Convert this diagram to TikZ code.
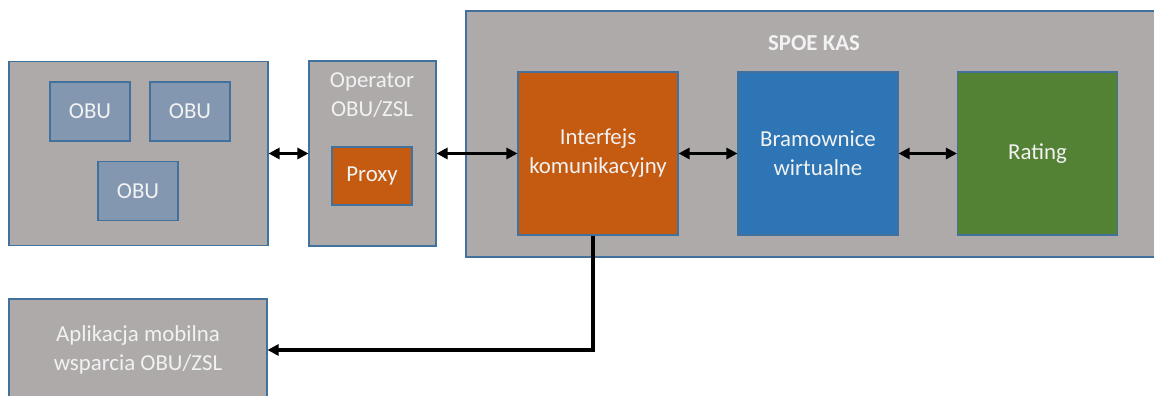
\documentclass[tikz,border=0pt]{standalone}
\usepackage{fontspec}
\setmainfont{Carlito}
\usepackage{xcolor}
\usetikzlibrary{arrows.meta}

\definecolor{boxgrey}{HTML}{AEAAAA}
\definecolor{boxline}{HTML}{41719C}
\definecolor{obublue}{HTML}{8497B0}
\definecolor{ifaceorange}{HTML}{C55A11}
\definecolor{gateblue}{HTML}{2E75B6}
\definecolor{ratinggreen}{HTML}{548235}
\definecolor{txt}{HTML}{F2F2F2}

\begin{document}
\begin{tikzpicture}[
  box/.style = {draw = boxline,line width = 0.6pt,fill = boxgrey,text = txt,inner sep = 0pt,align = center},
  unit/.style = {box,minimum width = 1.6cm,minimum height = 1.18cm},
  block/.style = {box,minimum width = 3.2cm,minimum height = 3.26cm},
  link/.style = {line width = 2pt,{Triangle[length = 0.22cm,width = 0.22cm]}-{Triangle[length = 0.22cm,width = 0.22cm]}},
  font = \fontsize{13}{16.5}\selectfont
]
\useasboundingbox (0,0) rectangle (23.08,7.92);

\node[box,minimum width = 5.18cm,minimum height = 3.68cm] at(2.77,4.85) (dev) {};
\node[unit,fill = obublue] at(1.8,5.69) (obu1) {OBU};
\node[unit,fill = obublue] at(3.8,5.69) (obu2) {OBU};
\node[unit,fill = obublue] at(2.76,4.10) (obu3) {OBU};


\node[box,minimum width = 2.54cm,minimum height = 3.7cm] at(7.45,4.85) (op) {};
\node[text = txt,align = center] at(7.44,6.01) (optitle) {Operator\\OBU/ZSL};
\node[unit,fill = ifaceorange,minimum height = 1.16cm] at(7.44,4.40) (proxy) {Proxy};


\node[box,minimum width = 14.08cm,minimum height = 4.92cm] at(16.36,5.24) (spoe) {};
\node[text = txt,font = \fontsize{13}{16.5}\selectfont\bfseries] at(16.28,7.06) (spoetitle) {SPOE KAS};

\node[block,fill = ifaceorange] at(11.96,4.85) (iface) {Interfejs\\komunikacyjny};
\node[block,fill = gateblue] at(16.36,4.85) (gates) {Bramownice\\wirtualne};
\node[block,fill = ratinggreen] at(20.75,4.85) (rating) {Rating};


\node[box,minimum width = 5.16cm,minimum height = 2.04cm] at(2.76,0.92) (app) {Aplikacja mobilna\\wsparcia OBU/ZSL};


\draw [link] (dev.east) -- (op.west);
\draw [link] (op.east) -- (iface.west);
\draw [link] (iface.east) -- (gates.west);
\draw [link] (gates.east) -- (rating.west);


\draw [-{Triangle[length = 0.22cm,width = 0.22cm]},line width = 2pt] ([xshift = -0.1cm]iface.south) |- (app.east);
\end{tikzpicture}
\end{document}
